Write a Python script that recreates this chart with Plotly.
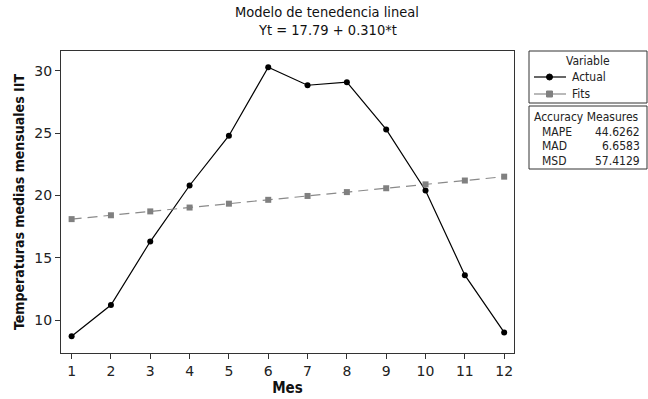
import plotly.graph_objects as go

# Monthly mean temperatures and the linear trend fit
months = [1, 2, 3, 4, 5, 6, 7, 8, 9, 10, 11, 12]
actual = [8.7, 11.2, 16.3, 20.8, 24.8, 30.3, 28.85, 29.1, 25.3, 20.4, 13.6, 9.0]
fits = [18.10, 18.41, 18.72, 19.03, 19.34, 19.65, 19.96, 20.27, 20.58, 20.89, 21.20, 21.51]
x_ticks = list(range(1, 13))
y_ticks = [10, 15, 20, 25, 30]

measure_names = ["MAPE", "MAD", "MSD"]
measure_values = ["44.6262", "6.6583", "57.4129"]

FONT = "DejaVu Sans Condensed, DejaVu Sans, sans-serif"
TICK_FONT = "DejaVu Sans, sans-serif"
W, H = 648, 399
L, R, T, B = 61, 514, 51, 353


def px(x):
    return (x - L) / (R - L)


def py(y):
    return (B - y) / (B - T)


fig = go.Figure()
fig.add_trace(go.Scatter(
    x=months, y=actual, mode="lines+markers", name="Actual",
    line=dict(color="black", width=1.2),
    marker=dict(symbol="circle", size=6, color="black"),
))
fig.add_trace(go.Scatter(
    x=months, y=fits, mode="lines+markers", name="Fits",
    line=dict(color="#8a8a8a", width=1.2, dash="10px,6px"),
    marker=dict(symbol="square", size=6, color="#808080"),
))

axis_common = dict(
    showgrid=False, zeroline=False, showline=True, linecolor="#333333",
    linewidth=1, mirror=True, ticks="outside", ticklen=5, tickcolor="#333333",
    tickfont=dict(family=TICK_FONT, size=14, color="#222222"),
)

fig.update_xaxes(
    range=[0.73, 12.25], tickvals=x_ticks,
    title=dict(text="<b>Mes</b>", font=dict(family=FONT, size=15, color="#111111"), standoff=4),
    **axis_common,
)
fig.update_yaxes(
    range=[7.35, 31.6], tickvals=y_ticks,
    title=dict(text="<b>Temperaturas medias mensuales IIT</b>",
               font=dict(family=FONT, size=14, color="#111111"), standoff=6),
    **axis_common,
)

shapes = []
annotations = []
LEG_SIZE = 12

# Variable box
shapes.append(dict(type="rect", xref="paper", yref="paper",
                   x0=px(529), x1=px(647), y0=py(103), y1=py(51),
                   line=dict(color="#333333", width=1), fillcolor="white"))
annotations.append(dict(xref="paper", yref="paper", x=px(588), y=py(61),
                        text="Variable", showarrow=False, xanchor="center", yanchor="middle",
                        font=dict(family=FONT, size=LEG_SIZE, color="#222222")))
# Actual sample
shapes.append(dict(type="line", xref="paper", yref="paper",
                   x0=px(534), x1=px(566), y0=py(77), y1=py(77),
                   line=dict(color="black", width=1.2)))
shapes.append(dict(type="circle", xref="paper", yref="paper",
                   x0=px(546.5), x1=px(552.5), y0=py(80), y1=py(74),
                   line=dict(color="black", width=1), fillcolor="black"))
annotations.append(dict(xref="paper", yref="paper", x=px(570), y=py(77),
                        text="Actual", showarrow=False, xanchor="left", yanchor="middle",
                        font=dict(family=FONT, size=LEG_SIZE, color="#222222")))
# Fits sample
shapes.append(dict(type="line", xref="paper", yref="paper",
                   x0=px(534), x1=px(566), y0=py(94), y1=py(94),
                   line=dict(color="#8a8a8a", width=1.2)))
shapes.append(dict(type="rect", xref="paper", yref="paper",
                   x0=px(546.5), x1=px(552.5), y0=py(97), y1=py(91),
                   line=dict(color="#808080", width=1), fillcolor="#808080"))
annotations.append(dict(xref="paper", yref="paper", x=px(570), y=py(94),
                        text="Fits", showarrow=False, xanchor="left", yanchor="middle",
                        font=dict(family=FONT, size=LEG_SIZE, color="#222222")))

# Accuracy measures box
shapes.append(dict(type="rect", xref="paper", yref="paper",
                   x0=px(529), x1=px(647), y0=py(169), y1=py(106),
                   line=dict(color="#333333", width=1), fillcolor="white"))
annotations.append(dict(xref="paper", yref="paper", x=px(532), y=py(117),
                        text="Accuracy Measures", showarrow=False, xanchor="left", yanchor="middle",
                        font=dict(family=FONT, size=LEG_SIZE, color="#222222")))
for i, (name, val) in enumerate(zip(measure_names, measure_values)):
    yy = 131.5 + i * 14.5
    annotations.append(dict(xref="paper", yref="paper", x=px(540), y=py(yy),
                            text=name, showarrow=False, xanchor="left", yanchor="middle",
                            font=dict(family=FONT, size=LEG_SIZE, color="#222222")))
    annotations.append(dict(xref="paper", yref="paper", x=px(642), y=py(yy),
                            text=val, showarrow=False, xanchor="right", yanchor="middle",
                            font=dict(family=FONT, size=LEG_SIZE, color="#222222")))

# Chart titles
annotations.append(dict(xref="paper", yref="paper", x=px(327), y=py(12),
                        text="Modelo de tenedencia lineal", showarrow=False,
                        xanchor="center", yanchor="middle",
                        font=dict(family=FONT, size=14.5, color="#111111")))
annotations.append(dict(xref="paper", yref="paper", x=px(327), y=py(30),
                        text="Yt = 17.79 + 0.310*t", showarrow=False,
                        xanchor="center", yanchor="middle",
                        font=dict(family=FONT, size=14.5, color="#111111")))

fig.update_layout(
    width=W, height=H,
    margin=dict(l=L, r=W - R, t=T, b=H - B, autoexpand=False),
    paper_bgcolor="white", plot_bgcolor="white",
    showlegend=False,
    shapes=shapes, annotations=annotations,
)

fig.write_html("out.html")
